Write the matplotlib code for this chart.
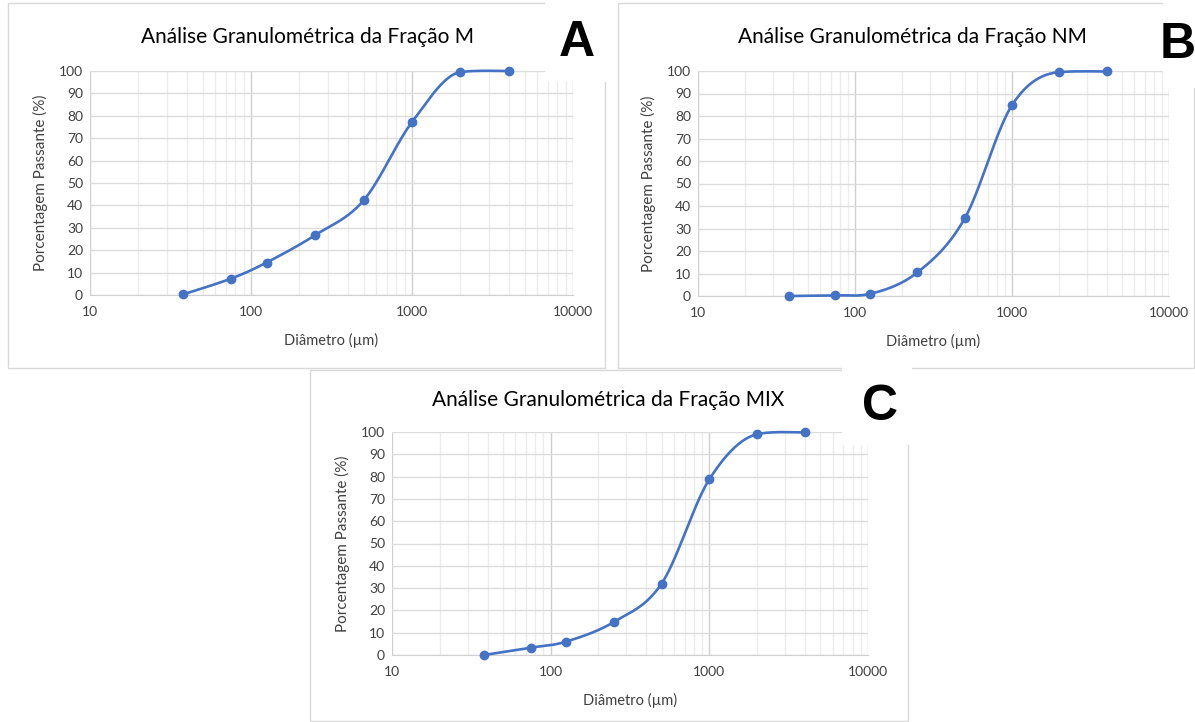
import numpy as np
import matplotlib
matplotlib.use("Agg")
import matplotlib.pyplot as plt
from matplotlib.patches import Rectangle

plt.rcParams["font.family"] = ["Lato", "DejaVu Sans"]

diametro = [38, 75, 125, 250, 500, 1000, 2000, 4000]
passante_m = [0.3, 7.3, 14.5, 26.7, 42.2, 77.2, 99.5, 100.0]
passante_nm = [0.0, 0.3, 1.0, 10.5, 34.5, 84.8, 99.5, 99.8]
passante_mix = [0.0, 3.3, 6.0, 14.8, 32.0, 78.8, 99.0, 99.8]

titulos = ["Análise Granulométrica da Fração M",
           "Análise Granulométrica da Fração NM",
           "Análise Granulométrica da Fração MIX"]
letras = ["A", "B", "C"]

W, H = 1195, 722
AZUL = "#4472C4"
CINZA = "#404040"


def fx(px):
    return px / W


def fy(py):
    return 1 - py / H


def suave(x, y, n=40):
    # curva suavizada parecida com a do Excel (Bezier em escala log)
    u = np.log10(np.array(x, float))
    v = np.array(y, float)
    npt = len(u)
    tu = np.zeros(npt)
    tv = np.zeros(npt)
    for i in range(npt):
        a = max(i - 1, 0)
        b = min(i + 1, npt - 1)
        tu[i] = (u[b] - u[a]) / 2
        tv[i] = (v[b] - v[a]) / 2
        if 0 < i < npt - 1:
            dmin = min(abs(v[i] - v[i - 1]), abs(v[i + 1] - v[i]))
            tv[i] = np.sign(tv[i]) * min(abs(tv[i]), 6 * dmin)
    uu, vv = [], []
    t = np.linspace(0, 1, n)
    for i in range(npt - 1):
        p0 = np.array([u[i], v[i]])
        p3 = np.array([u[i + 1], v[i + 1]])
        c1 = p0 + np.array([tu[i], tv[i]]) / 3
        c2 = p3 - np.array([tu[i + 1], tv[i + 1]]) / 3
        b = ((1 - t) ** 3)[:, None] * p0 + (3 * (1 - t) ** 2 * t)[:, None] * c1 \
            + (3 * (1 - t) * t ** 2)[:, None] * c2 + (t ** 3)[:, None] * p3
        uu.extend(b[:, 0])
        vv.extend(b[:, 1])
    return 10 ** np.array(uu), np.array(vv)


fig = plt.figure(figsize=(W / 100, H / 100), dpi=100)

# caixas dos paineis (px): x0, y0, x1, y1
caixas = [(8, 3, 605, 368), (618, 3, 1194, 368), (310, 370, 908, 721)]
eixos = [(90, 71, 573, 295), (698, 71, 1169, 296), (392, 432, 868, 655)]
brancos = [(545, 0, 612, 82), (1163, 0, 1195, 88), (842, 365, 912, 445)]
pos_letra = [(577, 43), (1178, 45), (880, 407)]
pos_titulo = [(307, 37), (912, 37), (608, 400)]
dados = [passante_m, passante_nm, passante_mix]

for (x0, y0, x1, y1) in caixas:
    fig.patches.append(Rectangle((fx(x0), fy(y1)), fx(x1 - x0), (y1 - y0) / H,
                                 transform=fig.transFigure, fill=False,
                                 edgecolor="#d9d9d9", lw=1.0, zorder=0))

for k in range(3):
    x0, y0, x1, y1 = eixos[k]
    ax = fig.add_axes([fx(x0), fy(y1), fx(x1 - x0), (y1 - y0) / H])
    ax.set_xscale("log")
    ax.set_xlim(10, 10000)
    ax.set_ylim(0, 100)
    ax.set_yticks(range(0, 101, 10))
    ax.set_xticks([10, 100, 1000, 10000])
    ax.set_xticklabels(["10", "100", "1000", "10000"])
    ax.set_xticks([m * 10 ** e for e in (1, 2, 3) for m in range(2, 10)], minor=True)
    ax.xaxis.set_minor_formatter(matplotlib.ticker.NullFormatter())
    ax.tick_params(which="both", length=0, labelsize=10, colors=CINZA)
    ax.tick_params(axis="x", pad=8)
    ax.tick_params(axis="y", pad=5)
    ax.grid(True, which="major", axis="x", color="#d0d0d0", lw=1.0)
    ax.grid(True, which="minor", axis="x", color="#ececec", lw=1.0)
    ax.grid(True, which="major", axis="y", color="#dcdcdc", lw=1.0)
    for s in ["top", "right", "left"]:
        ax.spines[s].set_visible(False)
    ax.spines["bottom"].set_color("#d0d0d0")
    ax.set_axisbelow(True)

    xs, ys = suave(diametro, dados[k])
    ax.plot(xs, ys, color=AZUL, lw=1.9, clip_on=False, zorder=3)
    ax.plot(diametro, dados[k], "o", color=AZUL, ms=6, clip_on=False, zorder=4)

    tx, ty = pos_titulo[k]
    fig.text(fx(tx), fy(ty), titulos[k], ha="center", va="center",
             fontsize=15, color="#000000")
    cx = (x0 + x1) / 2
    fig.text(fx(cx), fy(y1 + 45), "Diâmetro (µm)", ha="center", va="center",
             fontsize=10.5, color=CINZA)
    fig.text(fx(x0 - 50), fy((y0 + y1) / 2), "Porcentagem Passante (%)",
             ha="center", va="center", rotation=90, fontsize=11, color=CINZA)

for k in range(3):
    bx0, by0, bx1, by1 = brancos[k]
    fig.patches.append(Rectangle((fx(bx0), fy(by1)), fx(bx1 - bx0), (by1 - by0) / H,
                                 transform=fig.transFigure, facecolor="white",
                                 edgecolor="none", zorder=5))
    lx, ly = pos_letra[k]
    fig.text(fx(lx), fy(ly), letras[k], ha="center", va="center", fontsize=36,
             fontweight="bold", family=["Liberation Sans", "DejaVu Sans"],
             color="black", zorder=6)

fig.savefig("out.png", dpi=100)
